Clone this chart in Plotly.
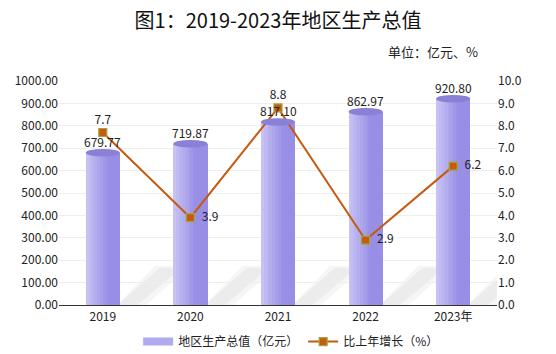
import plotly.graph_objects as go

categories = ["2019", "2020", "2021", "2022", "2023年"]
gdp = [679.77, 719.87, 817.10, 862.97, 920.80]
growth = [7.7, 3.9, 8.8, 2.9, 6.2]
growth_pos = ["top center", "middle right", "top center", "middle right", "middle right"]
left_ticks = [i * 100 for i in range(11)]
right_ticks = [i * 1.0 for i in range(11)]

FONT = "Noto Sans CJK SC"
xs = list(range(len(categories)))
W = 0.39
N = 12
c0 = (198, 194, 244)
c1 = (152, 142, 230)

def lerp(a, b, t):
    return tuple(int(round(a[k] + (b[k] - a[k]) * t)) for k in range(3))

fig = go.Figure()

# soft shadows behind cylinders
for x, v in zip(xs, gdp):
    xr = x + W / 2
    fig.add_shape(type="path",
                  path=f"M {xr-0.03},{0} L {xr+0.30},{0} L {xr+0.80},{175} L {xr+0.40},{175} Z",
                  fillcolor="rgba(130,130,130,0.07)", line_width=0, layer="below")
    fig.add_shape(type="path",
                  path=f"M {xr-0.03},{0} L {xr+0.20},{0} L {xr+0.70},{165} L {xr+0.45},{165} Z",
                  fillcolor="rgba(130,130,130,0.08)", line_width=0, layer="below")

# cylinder body as gradient strips
for i in range(N):
    t = i / (N - 1)
    col = "rgb(%d,%d,%d)" % lerp(c0, c1, min(1, t * 1.5))
    fig.add_trace(go.Bar(x=xs, y=gdp, width=W / N + 0.002, offset=-W / 2 + i * W / N,
                         marker=dict(color=col, line_width=0),
                         showlegend=False, hoverinfo="skip"))

# legend entry (wide swatch)
fig.add_trace(go.Scatter(x=[None], y=[None], name="地区生产总值（亿元）", mode="lines",
                         line=dict(color="rgb(176,170,238)", width=8)))

# cylinder tops
EH = 17
for x, v in zip(xs, gdp):
    fig.add_shape(type="circle", x0=x - W / 2, x1=x + W / 2, y0=v - EH, y1=v + EH,
                  fillcolor="rgb(138,128,214)", line_width=0, layer="above")

fig.add_trace(go.Scatter(x=xs, y=growth, yaxis="y2", name="比上年增长（%）",
                         mode="lines+markers+text", text=["%.1f" % v for v in growth],
                         texttemplate=["%{text}" if p == "top center" else "  %{text}" for p in growth_pos],
                         textposition=growth_pos,
                         textfont=dict(size=12, color="#222", family=FONT),
                         line=dict(color="#c55a11", width=2),
                         marker=dict(symbol="square", size=8, color="#c55a11",
                                     line=dict(color="#a5a53c", width=1.2))))

annotations = [dict(text="%.2f" % v, x=x, y=v, xref="x", yref="y", yshift=11,
                    showarrow=False, yanchor="middle",
                    font=dict(size=12, color="#222", family=FONT))
               for x, v in zip(xs, gdp)]
annotations.append(dict(text="单位：亿元、%", xref="paper", yref="paper", x=0.961, y=1.13,
                        xanchor="right", yanchor="middle", showarrow=False,
                        font=dict(size=13, color="#222", family=FONT)))

fig.update_layout(
    width=556, height=354,
    margin=dict(l=59, r=59, t=81, b=49, autoexpand=False),
    paper_bgcolor="white", plot_bgcolor="white",
    barmode="overlay", bargap=0,
    font=dict(family=FONT, size=12, color="#333"),
    title=dict(text="图1：2019-2023年地区生产总值", x=0.5, xanchor="center",
               y=0.94, yanchor="middle",
               font=dict(size=20, color="#111", family=FONT)),
    xaxis=dict(range=[-0.5, 4.5], tickmode="array", tickvals=xs, ticktext=categories,
               showgrid=False, showline=True, linecolor="#333", linewidth=1.2,
               ticks="", tickfont=dict(size=12, color="#222")),
    yaxis=dict(range=[0, 1000], tickvals=left_ticks, ticktext=["%.2f" % v for v in left_ticks],
               showgrid=True, gridcolor="#eeeeee", zeroline=False, showline=False,
               tickfont=dict(size=12, color="#222")),
    yaxis2=dict(range=[0, 10], overlaying="y", side="right", tickvals=right_ticks,
                ticktext=["%.1f" % v for v in right_ticks], showgrid=False, zeroline=False,
                tickfont=dict(size=12, color="#222")),
    legend=dict(orientation="h", x=0.53, xanchor="center", y=0.035, yanchor="middle",
                yref="container", font=dict(size=12, color="#222"),
                tracegroupgap=0, itemwidth=30),
    annotations=annotations,
)

fig.write_html("out.html")
